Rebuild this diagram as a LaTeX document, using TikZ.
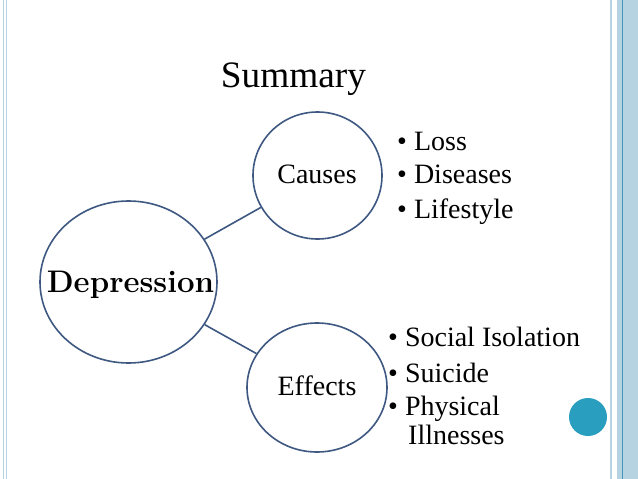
\documentclass[tikz,border=0pt]{standalone}
\usepackage{fontspec}
\setmainfont{Liberation Serif}
\usetikzlibrary{shapes.geometric}
\definecolor{ringblue}{RGB}{62,88,130}
\definecolor{paleblue}{RGB}{182,211,226}
\definecolor{edgeblue}{RGB}{70,150,190}
\definecolor{dotblue}{RGB}{41,158,190}
\tikzset{
  bubble/.style={ellipse, draw=ringblue, line width=1.6pt, inner sep=0pt},
  link/.style={draw=ringblue, line width=1.6pt},
  bigtxt/.style={inner sep=0pt, font=\fontsize{28}{28}\selectfont},
  itemtxt/.style={inner sep=0pt, anchor=base west, font=\fontsize{28}{28}\selectfont},
}
\begin{document}
\begin{tikzpicture}[x=1pt,y=-1pt]
\useasboundingbox (0,0) rectangle (638,479);
\fill[white] (0,0) rectangle (638,479);
% borders
\draw[paleblue, line width=1.8pt] (3.5,0) -- (3.5,479);
\draw[paleblue, line width=1.8pt] (6.5,0) -- (6.5,479);
\draw[paleblue, line width=2pt] (611,0) -- (611,479);
\fill[paleblue] (617,0) rectangle (638,479);
\draw[edgeblue, line width=1pt] (622.5,0) -- (622.5,479);
% title
\node[inner sep=0pt, anchor=base, font=\fontsize{37.3}{37.3}\selectfont] (title) at (293.5,87) {Summary};
% bubbles
\node[bubble, minimum width=177pt, minimum height=162pt] (dep) at (128.5,282) {};
\node[bubble, minimum width=129pt, minimum height=127pt] (cau) at (317.5,175.5) {};
\node[bubble, minimum width=140pt, minimum height=129pt] (eff) at (317,387.5) {};
\draw[link] (dep) -- (cau);
\draw[link] (dep) -- (eff);
% labels
\node[inner sep=0pt, anchor=base, font=\fontspec{Latin Modern Roman}\bfseries\fontsize{31.2}{31.2}\selectfont] (deplabel) at (130.5,292) {Depression};
\node[bigtxt, anchor=base] (caulabel) at (317,183) {Causes};
\node[bigtxt, anchor=base] (efflabel) at (317,395) {Effects};
% cause items
\node[itemtxt] (c1) at (397,150) {•~Loss};
\node[itemtxt] (c2) at (397,183.5) {•~Diseases};
\node[itemtxt] (c3) at (397,218) {•~Lifestyle};
% effect items
\node[itemtxt] (e1) at (388,346) {•~Social Isolation};
\node[itemtxt] (e2) at (388,382) {•~Suicide};
\node[itemtxt] (e3) at (388,415) {•~Physical};
\node[itemtxt] (e4) at (408,444) {Illnesses};
% dot
\fill[dotblue] (588,417) circle (19);
\end{tikzpicture}
\end{document}
